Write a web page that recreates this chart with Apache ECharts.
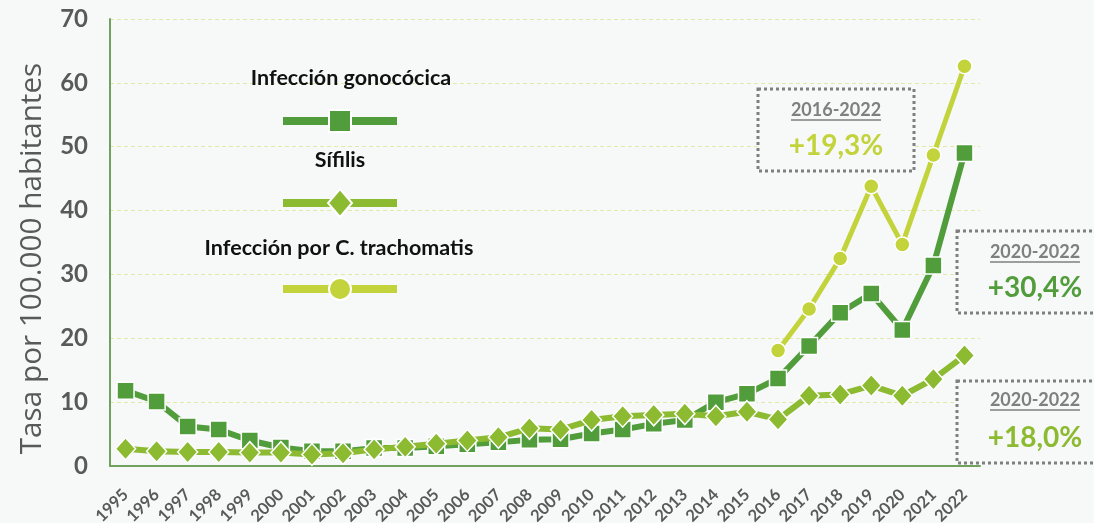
<!DOCTYPE html>
<html>
<head>
<meta charset="utf-8">
<script src="https://cdn.jsdelivr.net/npm/echarts@6/dist/echarts.min.js"></script>
<style>
html,body{margin:0;padding:0;background:#f7f8f8;}
#chart{width:1094px;height:523px;}
</style>
</head>
<body>
<div id="chart"></div>
<script>
const years = ['1995','1996','1997','1998','1999','2000','2001','2002','2003','2004','2005','2006','2007','2008','2009','2010','2011','2012','2013','2014','2015','2016','2017','2018','2019','2020','2021','2022'];
const gonococica = [11.8,10.1,6.2,5.7,4.0,2.9,2.3,2.3,2.8,2.8,3.1,3.4,3.7,4.1,4.2,5.1,5.7,6.6,7.2,10.0,11.3,13.7,18.8,24.0,27.0,21.3,31.4,49.0];
const sifilis = [2.7,2.3,2.2,2.2,2.1,2.1,1.8,2.0,2.6,3.0,3.5,4.0,4.5,5.9,5.7,7.2,7.8,8.0,8.2,7.8,8.5,7.3,11.0,11.2,12.6,11.0,13.6,17.3];
const chlamydia = [null,null,null,null,null,null,null,null,null,null,null,null,null,null,null,null,null,null,null,null,null,18.1,24.6,32.5,43.8,34.7,48.7,62.6];
const seriesNames = ['Infección gonocócica','Sífilis','Infección por C. trachomatis'];
const boxPeriods = ['2016-2022','2020-2022','2020-2022'];
const boxValues = ['+19,3%','+30,4%','+18,0%'];

const C_GONO = '#519c3b', C_SIF = '#8cba30', C_CHL = '#c3d33b';
const FONT = 'Lato, "Open Sans", sans-serif';

const chart = echarts.init(document.getElementById('chart'));

const graphics = [];
const legendRows = [
  {t:78, l:121, cx:351, color:C_GONO},
  {t:160, l:203, cx:340, color:C_SIF},
  {t:248, l:289, cx:339, color:C_CHL}
];
legendRows.forEach((r,i)=>{
  graphics.push({type:'text', x:r.cx, y:r.t, style:{text:seriesNames[i], font:'bold 21.5px '+FONT, fill:'#111', align:'center', verticalAlign:'middle'}, z:10});
  graphics.push({type:'line', shape:{x1:283,y1:r.l,x2:397,y2:r.l}, style:{stroke:r.color, lineWidth:8}, z:10});
  if(i===0){
    graphics.push({type:'rect', shape:{x:340-11,y:r.l-11,width:22,height:22}, style:{fill:r.color, stroke:'#fff', lineWidth:2}, z:11});
  } else if(i===1){
    graphics.push({type:'polygon', shape:{points:[[340,r.l-14],[352,r.l],[340,r.l+14],[328,r.l]]}, style:{fill:r.color, stroke:'#fff', lineWidth:2}, z:11});
  } else {
    graphics.push({type:'circle', shape:{cx:340,cy:r.l,r:11}, style:{fill:r.color, stroke:'#fff', lineWidth:2}, z:11});
  }
});

const boxes = [
  {x:758,y:89,w:156,h:82,cx:836,py:110,vy:146,color:C_CHL},
  {x:957,y:231,w:150,h:82,cx:1035,py:252,vy:288,color:C_GONO},
  {x:957,y:381,w:150,h:82,cx:1035,py:400,vy:438,color:C_SIF}
];
boxes.forEach((b,i)=>{
  graphics.push({type:'rect', shape:{x:b.x,y:b.y,width:b.w,height:b.h}, style:{fill:'#f7f8f8', stroke:'#7f7f7f', lineWidth:3, lineDash:[3,3]}, z:5});
  graphics.push({type:'text', x:b.cx, y:b.py, style:{text:boxPeriods[i], font:'bold 18px '+FONT, fill:'#7f7f7f', align:'center', verticalAlign:'middle'}, z:6});
  graphics.push({type:'line', shape:{x1:b.cx-45,y1:b.py+10,x2:b.cx+45,y2:b.py+10}, style:{stroke:'#7f7f7f', lineWidth:1.5}, z:6});
  graphics.push({type:'text', x:b.cx, y:b.vy, style:{text:boxValues[i], font:'bold 28px '+FONT, fill:b.color, align:'center', verticalAlign:'middle'}, z:6});
});

const option = {
  backgroundColor:'#f7f8f8',
  animation:false,
  grid:{left:110, right:114, top:19, bottom:57, containLabel:false, outerBoundsMode:'none'},
  xAxis:{
    type:'category', data:years, boundaryGap:true,
    axisLine:{lineStyle:{color:'#72a05e', width:2}},
    axisTick:{show:false},
    axisLabel:{rotate:45, interval:0, fontFamily:FONT, fontWeight:'bold', fontSize:16.5, color:'#595959', margin:26}
  },
  yAxis:{
    type:'value', min:0, max:70, interval:10,
    name:'Tasa por 100.000 habitantes', nameLocation:'middle', nameGap:62,
    nameTextStyle:{fontFamily:'"Open Sans", sans-serif', fontSize:29.7, color:'#595959', padding:[0,32,0,0]},
    axisLine:{show:true, lineStyle:{color:'#72a05e', width:2}},
    axisTick:{show:false},
    axisLabel:{fontFamily:FONT, fontWeight:'bold', fontSize:24, color:'#595959', margin:22},
    splitLine:{lineStyle:{color:'#e2e8a8', type:[4,3], width:1}}
  },
  series:[
    {name:seriesNames[0], type:'line', data:gonococica, symbol:'rect', symbolSize:17, lineStyle:{color:C_GONO,width:6}, itemStyle:{color:C_GONO, borderColor:'#fff', borderWidth:1.5}, z:2},
    {name:seriesNames[1], type:'line', data:sifilis, symbol:'diamond', symbolSize:[20,22], lineStyle:{color:C_SIF,width:6}, itemStyle:{color:C_SIF, borderColor:'#fff', borderWidth:1.5}, z:3},
    {name:seriesNames[2], type:'line', data:chlamydia, symbol:'circle', symbolSize:15, lineStyle:{color:C_CHL,width:5}, itemStyle:{color:C_CHL, borderColor:'#fff', borderWidth:1.5}, z:4}
  ],
  graphic:graphics
};
chart.setOption(option);
</script>
</body>
</html>
